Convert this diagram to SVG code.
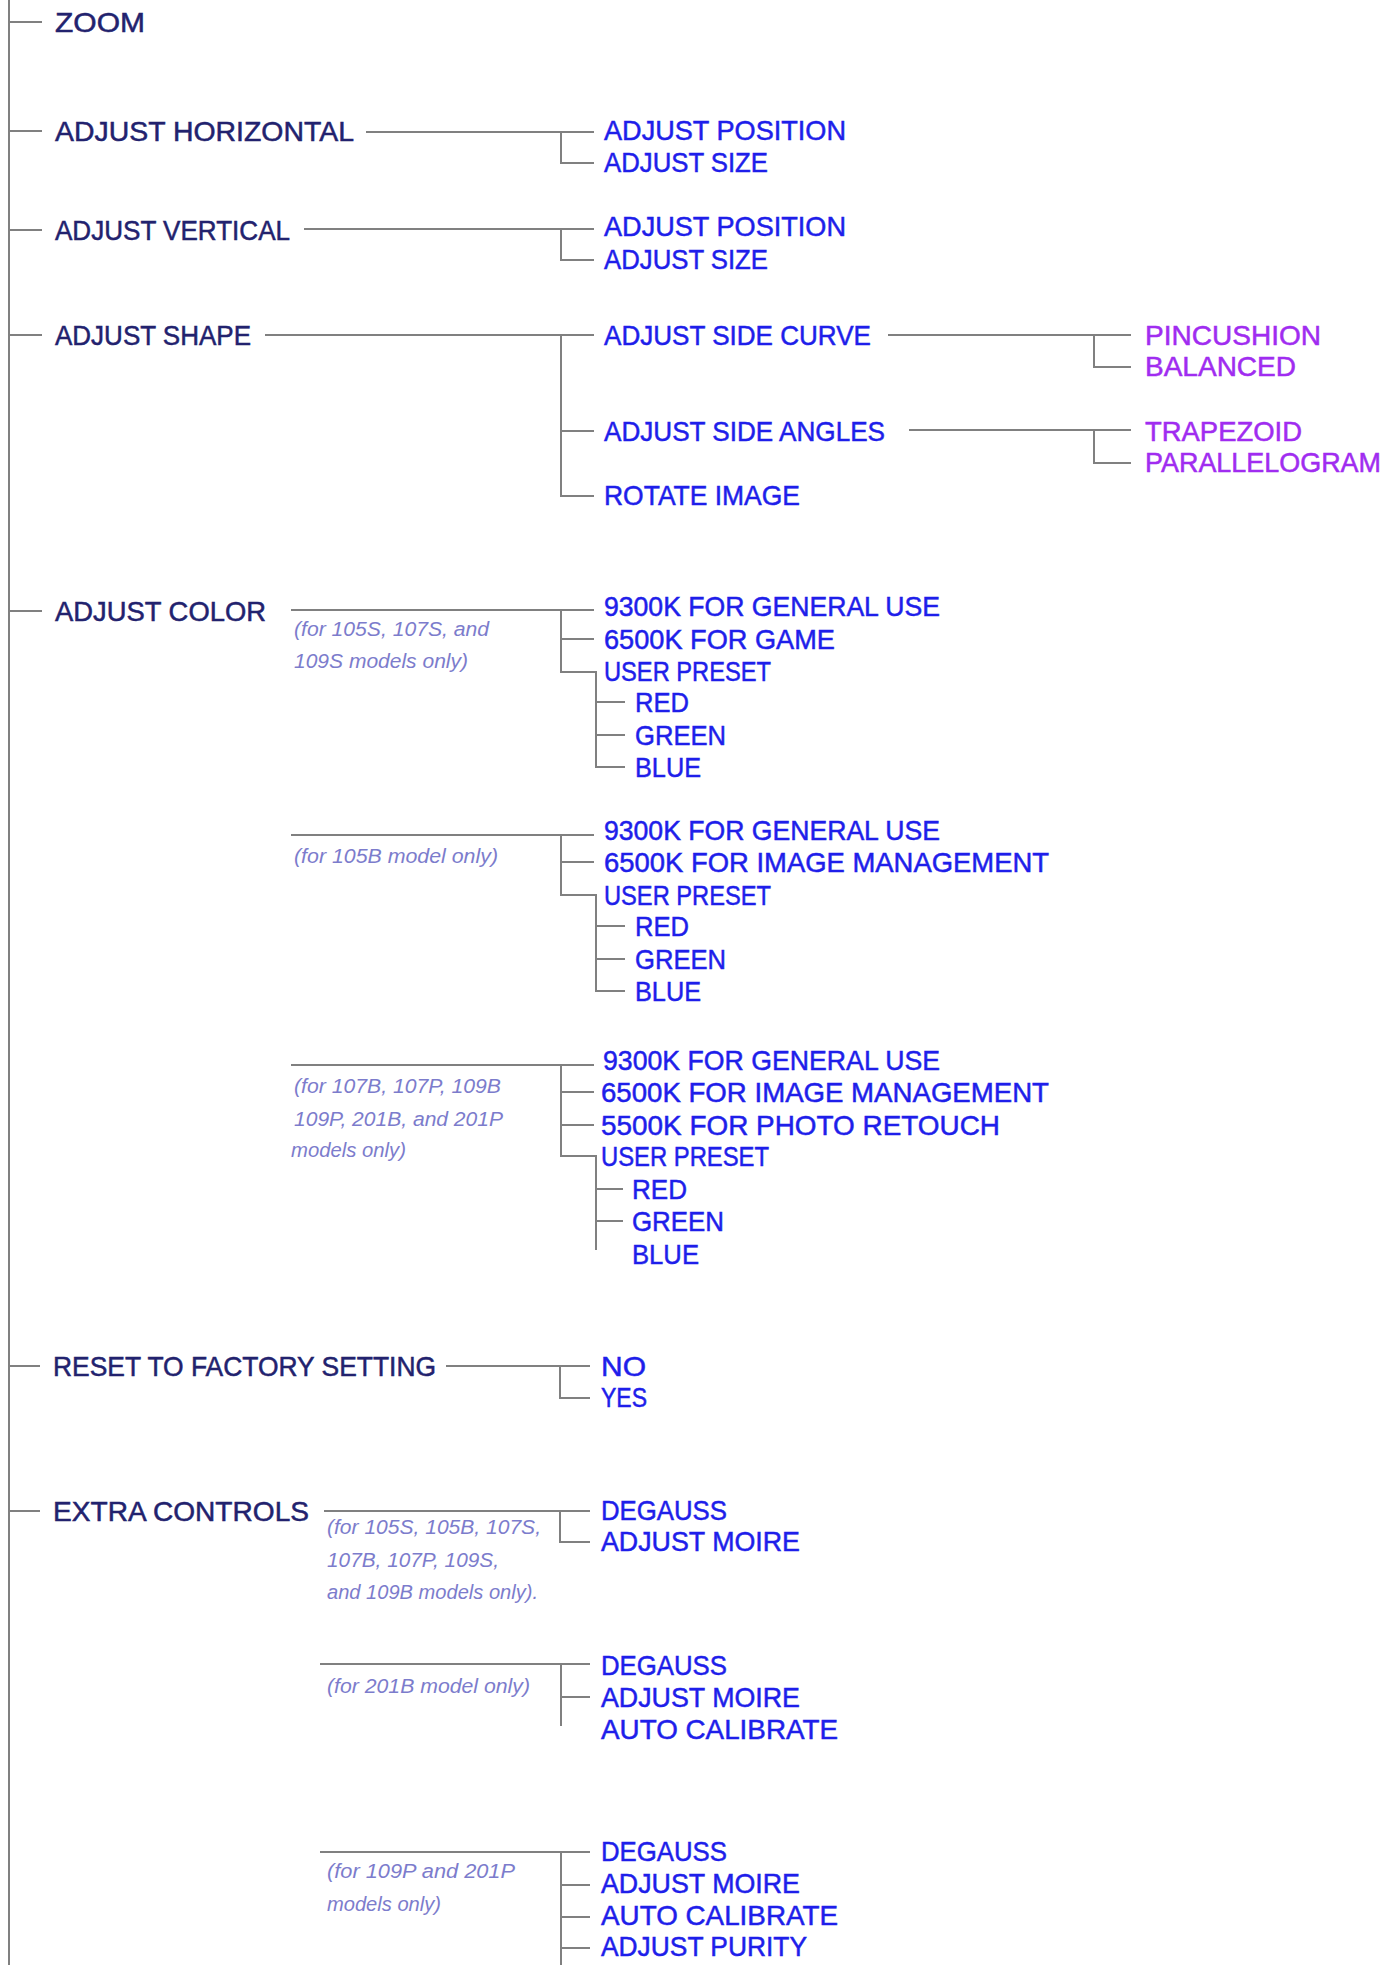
<svg xmlns="http://www.w3.org/2000/svg" width="1398" height="1965" viewBox="0 0 1398 1965">
<style>
text{font-family:"Liberation Sans",Arial,sans-serif;font-size:28px;stroke-width:0.5px}
.m{fill:#22226e;stroke:#22226e}
.b{fill:#1e1eea;stroke:#1e1eea}
.p{fill:#a02cf0;stroke:#a02cf0}
.n{font-size:20px;font-style:italic;fill:#7c7ccc;stroke:none}
.c line,.c path{stroke:#808080;stroke-width:2;fill:none}
</style>
<rect width="1398" height="1965" fill="#ffffff"/>
<g id="connectors" class="c">
<line x1="9" y1="0" x2="9" y2="1965"/>
<line x1="9" y1="22" x2="42" y2="22"/>
<line x1="9" y1="131" x2="42" y2="131"/>
<line x1="9" y1="230" x2="42" y2="230"/>
<line x1="9" y1="335" x2="42" y2="335"/>
<line x1="9" y1="611" x2="42" y2="611"/>
<line x1="9" y1="1366" x2="40" y2="1366"/>
<line x1="9" y1="1511" x2="40" y2="1511"/>
<path d="M366 132H594M561 132V163H594"/>
<path d="M304 229H594M561 229V260H594"/>
<path d="M265 335H594M561 335V496H594M561 431H594"/>
<path d="M888 335H1131M1094 335V367H1131"/>
<path d="M909 430H1131M1094 430V463H1131"/>
<path d="M291 610H594M561 610V672H596V767H625M561 639H594M596 702H625M596 735H625"/>
<path d="M291 835H594M561 835V895H596V991H625M561 862H594M596 926H625M596 959H625"/>
<path d="M291 1065H594M561 1065V1156H596V1250M561 1092H594M561 1125H594M596 1189H623M596 1221H623"/>
<path d="M446 1366H590M560 1366V1398H590"/>
<path d="M324 1511H590M560 1511V1542H590"/>
<path d="M320 1664H590M561 1664V1726M561 1697H590"/>
<path d="M320 1852H590M561 1852V1965M561 1885H590M561 1917H590M561 1948H590"/>
</g>
<g id="zoom"><text class="m" x="55" y="32" textLength="90" lengthAdjust="spacingAndGlyphs">ZOOM</text></g>
<g id="adjust-horizontal"><text class="m" x="55" y="141" textLength="299" lengthAdjust="spacingAndGlyphs">ADJUST HORIZONTAL</text></g>
<g id="h-position"><text class="b" x="604" y="140" textLength="242" lengthAdjust="spacingAndGlyphs">ADJUST POSITION</text></g>
<g id="h-size"><text class="b" x="604" y="172" textLength="164" lengthAdjust="spacingAndGlyphs">ADJUST SIZE</text></g>
<g id="adjust-vertical"><text class="m" x="55" y="240" textLength="235" lengthAdjust="spacingAndGlyphs">ADJUST VERTICAL</text></g>
<g id="v-position"><text class="b" x="604" y="236" textLength="242" lengthAdjust="spacingAndGlyphs">ADJUST POSITION</text></g>
<g id="v-size"><text class="b" x="604" y="269" textLength="164" lengthAdjust="spacingAndGlyphs">ADJUST SIZE</text></g>
<g id="adjust-shape"><text class="m" x="55" y="345" textLength="196" lengthAdjust="spacingAndGlyphs">ADJUST SHAPE</text></g>
<g id="side-curve"><text class="b" x="604" y="345" textLength="267" lengthAdjust="spacingAndGlyphs">ADJUST SIDE CURVE</text></g>
<g id="pincushion"><text class="p" x="1145" y="345" textLength="176" lengthAdjust="spacingAndGlyphs">PINCUSHION</text></g>
<g id="balanced"><text class="p" x="1145" y="376" textLength="151" lengthAdjust="spacingAndGlyphs">BALANCED</text></g>
<g id="side-angles"><text class="b" x="604" y="441" textLength="281" lengthAdjust="spacingAndGlyphs">ADJUST SIDE ANGLES</text></g>
<g id="trapezoid"><text class="p" x="1145" y="441" textLength="157" lengthAdjust="spacingAndGlyphs">TRAPEZOID</text></g>
<g id="parallelogram"><text class="p" x="1145" y="472" textLength="236" lengthAdjust="spacingAndGlyphs">PARALLELOGRAM</text></g>
<g id="rotate-image"><text class="b" x="604" y="505" textLength="196" lengthAdjust="spacingAndGlyphs">ROTATE IMAGE</text></g>
<g id="adjust-color"><text class="m" x="55" y="621" textLength="211" lengthAdjust="spacingAndGlyphs">ADJUST COLOR</text></g>
<g id="note-color-1"><text class="n" x="294" y="636" textLength="195" lengthAdjust="spacingAndGlyphs">(for 105S, 107S, and</text><text class="n" x="294" y="668" textLength="174" lengthAdjust="spacingAndGlyphs">109S models only)</text></g>
<g id="c1-9300"><text class="b" x="604" y="616" textLength="336" lengthAdjust="spacingAndGlyphs">9300K FOR GENERAL USE</text></g>
<g id="c1-6500"><text class="b" x="604" y="649" textLength="231" lengthAdjust="spacingAndGlyphs">6500K FOR GAME</text></g>
<g id="c1-user"><text class="b" x="604" y="681" textLength="167" lengthAdjust="spacingAndGlyphs">USER PRESET</text></g>
<g id="c1-red"><text class="b" x="635" y="712" textLength="54" lengthAdjust="spacingAndGlyphs">RED</text></g>
<g id="c1-green"><text class="b" x="635" y="745" textLength="91" lengthAdjust="spacingAndGlyphs">GREEN</text></g>
<g id="c1-blue"><text class="b" x="635" y="777" textLength="66" lengthAdjust="spacingAndGlyphs">BLUE</text></g>
<g id="note-color-2"><text class="n" x="294" y="863" textLength="204" lengthAdjust="spacingAndGlyphs">(for 105B model only)</text></g>
<g id="c2-9300"><text class="b" x="604" y="840" textLength="336" lengthAdjust="spacingAndGlyphs">9300K FOR GENERAL USE</text></g>
<g id="c2-6500"><text class="b" x="604" y="872" textLength="445" lengthAdjust="spacingAndGlyphs">6500K FOR IMAGE MANAGEMENT</text></g>
<g id="c2-user"><text class="b" x="604" y="905" textLength="167" lengthAdjust="spacingAndGlyphs">USER PRESET</text></g>
<g id="c2-red"><text class="b" x="635" y="936" textLength="54" lengthAdjust="spacingAndGlyphs">RED</text></g>
<g id="c2-green"><text class="b" x="635" y="969" textLength="91" lengthAdjust="spacingAndGlyphs">GREEN</text></g>
<g id="c2-blue"><text class="b" x="635" y="1001" textLength="66" lengthAdjust="spacingAndGlyphs">BLUE</text></g>
<g id="note-color-3"><text class="n" x="294" y="1093" textLength="207" lengthAdjust="spacingAndGlyphs">(for 107B, 107P, 109B</text><text class="n" x="294" y="1126" textLength="209" lengthAdjust="spacingAndGlyphs">109P, 201B, and 201P</text><text class="n" x="291" y="1157" textLength="115" lengthAdjust="spacingAndGlyphs">models only)</text></g>
<g id="c3-9300"><text class="b" x="603" y="1070" textLength="337" lengthAdjust="spacingAndGlyphs">9300K FOR GENERAL USE</text></g>
<g id="c3-6500"><text class="b" x="601" y="1102" textLength="448" lengthAdjust="spacingAndGlyphs">6500K FOR IMAGE MANAGEMENT</text></g>
<g id="c3-5500"><text class="b" x="601" y="1135" textLength="399" lengthAdjust="spacingAndGlyphs">5500K FOR PHOTO RETOUCH</text></g>
<g id="c3-user"><text class="b" x="601" y="1166" textLength="168" lengthAdjust="spacingAndGlyphs">USER PRESET</text></g>
<g id="c3-red"><text class="b" x="632" y="1199" textLength="55" lengthAdjust="spacingAndGlyphs">RED</text></g>
<g id="c3-green"><text class="b" x="632" y="1231" textLength="92" lengthAdjust="spacingAndGlyphs">GREEN</text></g>
<g id="c3-blue"><text class="b" x="632" y="1264" textLength="67" lengthAdjust="spacingAndGlyphs">BLUE</text></g>
<g id="reset"><text class="m" x="53" y="1376" textLength="383" lengthAdjust="spacingAndGlyphs">RESET TO FACTORY SETTING</text></g>
<g id="reset-no"><text class="b" x="601" y="1376" textLength="45" lengthAdjust="spacingAndGlyphs">NO</text></g>
<g id="reset-yes"><text class="b" x="601" y="1407" textLength="46" lengthAdjust="spacingAndGlyphs">YES</text></g>
<g id="extra-controls"><text class="m" x="53" y="1521" textLength="256" lengthAdjust="spacingAndGlyphs">EXTRA CONTROLS</text></g>
<g id="note-extra-1"><text class="n" x="327" y="1534" textLength="214" lengthAdjust="spacingAndGlyphs">(for 105S, 105B, 107S,</text><text class="n" x="327" y="1567" textLength="172" lengthAdjust="spacingAndGlyphs">107B, 107P, 109S,</text><text class="n" x="327" y="1599" textLength="211" lengthAdjust="spacingAndGlyphs">and 109B models only).</text></g>
<g id="e1-degauss"><text class="b" x="601" y="1520" textLength="126" lengthAdjust="spacingAndGlyphs">DEGAUSS</text></g>
<g id="e1-moire"><text class="b" x="601" y="1551" textLength="199" lengthAdjust="spacingAndGlyphs">ADJUST MOIRE</text></g>
<g id="note-extra-2"><text class="n" x="327" y="1693" textLength="203" lengthAdjust="spacingAndGlyphs">(for 201B model only)</text></g>
<g id="e2-degauss"><text class="b" x="601" y="1675" textLength="126" lengthAdjust="spacingAndGlyphs">DEGAUSS</text></g>
<g id="e2-moire"><text class="b" x="601" y="1707" textLength="199" lengthAdjust="spacingAndGlyphs">ADJUST MOIRE</text></g>
<g id="e2-calibrate"><text class="b" x="601" y="1739" textLength="237" lengthAdjust="spacingAndGlyphs">AUTO CALIBRATE</text></g>
<g id="note-extra-3"><text class="n" x="327" y="1878" textLength="188" lengthAdjust="spacingAndGlyphs">(for 109P and 201P</text><text class="n" x="327" y="1911" textLength="114" lengthAdjust="spacingAndGlyphs">models only)</text></g>
<g id="e3-degauss"><text class="b" x="601" y="1861" textLength="126" lengthAdjust="spacingAndGlyphs">DEGAUSS</text></g>
<g id="e3-moire"><text class="b" x="601" y="1893" textLength="199" lengthAdjust="spacingAndGlyphs">ADJUST MOIRE</text></g>
<g id="e3-calibrate"><text class="b" x="601" y="1925" textLength="237" lengthAdjust="spacingAndGlyphs">AUTO CALIBRATE</text></g>
<g id="e3-purity"><text class="b" x="601" y="1956" textLength="206" lengthAdjust="spacingAndGlyphs">ADJUST PURITY</text></g>
</svg>
